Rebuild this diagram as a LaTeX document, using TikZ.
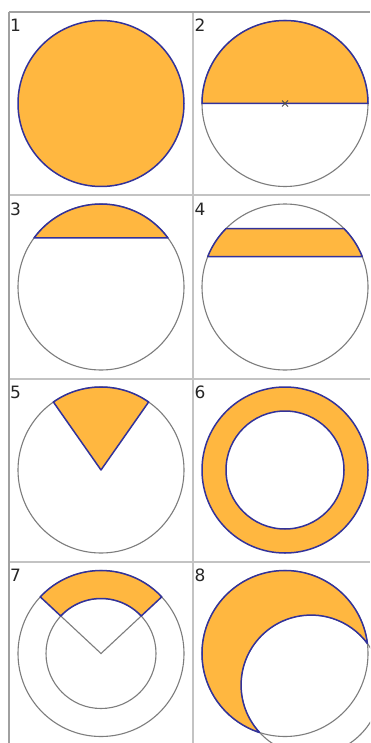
\documentclass[tikz,border=0pt]{standalone}
\usepackage{fontspec}
\setmainfont{DejaVu Sans}
\usetikzlibrary{calc}
\definecolor{fillor}{RGB}{255,183,64}
\definecolor{edgeb}{RGB}{50,50,155}
\definecolor{circg}{RGB}{125,125,125}
\definecolor{gridg}{RGB}{195,195,195}
\definecolor{gridd}{RGB}{160,160,160}
\begin{document}
\begin{tikzpicture}[x=1pt,y=1pt,
  region/.style={fill=fillor,draw=edgeb,line width=1.5pt,line join=round},
  circ/.style={draw=circg,line width=1.1pt},
  gridline/.style={draw=gridg,line width=2pt},
  gridouter/.style={draw=gridd,line width=1.6pt},
  num/.style={anchor=base west,inner sep=0pt,font=\fontsize{17}{17}\selectfont,text=black!85}]
\useasboundingbox (0,0) rectangle (370,-743);
\fill[white] (0,0) rectangle (370,-743);
\clip (0,0) rectangle (370,-743);
% grid
\draw[gridline] (193,-12) -- (193,-743);
\draw[gridline] (9,-195.3) -- (370,-195.3);
\draw[gridline] (9,-378.6) -- (370,-378.6);
\draw[gridline] (9,-562) -- (370,-562);
\draw[gridouter] (9,-12) -- (370,-12);
\draw[gridouter] (9,-12) -- (9,-743);
% cell centres
\coordinate (c1) at (101,-103.5);
\coordinate (c2) at (285,-103.5);
\coordinate (c3) at (101,-287);
\coordinate (c4) at (285,-287);
\coordinate (c5) at (101,-470);
\coordinate (c6) at (285,-470);
\coordinate (c7) at (101,-653.5);
\coordinate (c8) at (285,-653.5);
\coordinate (c8b) at (311,-685);
% 1
\draw[region] (c1) circle[radius=83];
% 2
\draw[circ] (c2) circle[radius=83];
\draw[region] ($(c2)+(-83,0)$) arc[start angle=180,end angle=0,radius=83] -- cycle;
\draw[black!70,line width=0.9pt] ($(c2)+(-3,-3)$) -- ($(c2)+(3,3)$) ($(c2)+(-3,3)$) -- ($(c2)+(3,-3)$);
% 3
\draw[circ] (c3) circle[radius=83];
\draw[region] ($(c3)+(36.2:83)$) arc[start angle=36.2,end angle=143.8,radius=83] -- cycle;
% 4
\draw[circ] (c4) circle[radius=83];
\draw[region] ($(c4)+(21.56:83)$) arc[start angle=21.56,end angle=44.8,radius=83]
  -- ($(c4)+(135.2:83)$) arc[start angle=135.2,end angle=158.44,radius=83] -- cycle;
% 5
\draw[circ] (c5) circle[radius=83];
\draw[region] (c5) -- ($(c5)+(55:83)$) arc[start angle=55,end angle=125,radius=83] -- cycle;
% 6
\draw[region,even odd rule] (c6) circle[radius=83] (c6) circle[radius=59];
% 7
\draw[circ] (c7) circle[radius=83];
\draw[circ] (c7) circle[radius=55];
\draw[circ] ($(c7)+(43:55)$) -- (c7) -- ($(c7)+(137:55)$);
\draw[region] ($(c7)+(43:55)$) -- ($(c7)+(43:83)$) arc[start angle=43,end angle=137,radius=83]
  -- ($(c7)+(137:55)$) arc[start angle=137,end angle=43,radius=55] -- cycle;
% 8
\draw[circ] (c8) circle[radius=83];
\draw[circ] (c8b) circle[radius=70];
\draw[region] ($(c8)+(6.9:83)$) arc[start angle=6.9,end angle=252.2,radius=83]
  arc[start angle=222.7,end angle=36.3,radius=70] -- cycle;
% numbers
\node[num] (n1) at (10,-31.5) {1};
\node[num] (n2) at (194.5,-31.5) {2};
\node[num] (n3) at (10,-215) {3};
\node[num] (n4) at (194.5,-215) {4};
\node[num] (n5) at (10,-398.3) {5};
\node[num] (n6) at (194.5,-398.3) {6};
\node[num] (n7) at (10,-581.7) {7};
\node[num] (n8) at (194.5,-581.7) {8};
\end{tikzpicture}
\end{document}
